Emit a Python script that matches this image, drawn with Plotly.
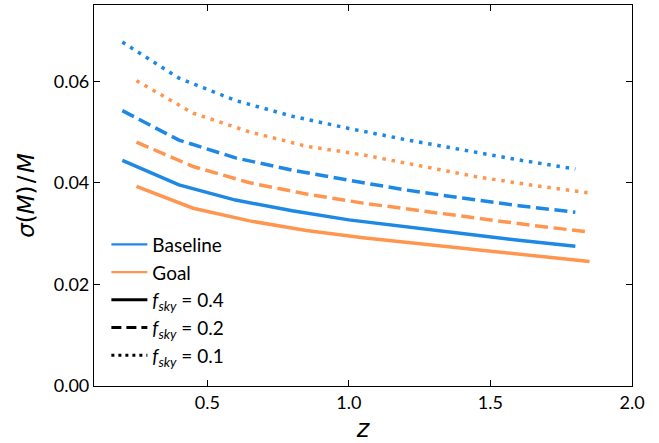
import plotly.graph_objects as go

# Data
z_baseline = [0.2, 0.4, 0.6, 0.8, 1.0, 1.2, 1.4, 1.6, 1.8]
z_goal = [0.25, 0.45, 0.65, 0.85, 1.05, 1.25, 1.45, 1.65, 1.85]

baseline_f04 = [0.0444, 0.0396, 0.0366, 0.0345, 0.0327, 0.0313, 0.0300, 0.0287, 0.0275]
baseline_f02 = [0.0542, 0.0484, 0.0449, 0.0425, 0.0405, 0.0386, 0.0370, 0.0355, 0.0342]
baseline_f01 = [0.0677, 0.0606, 0.0562, 0.0531, 0.0507, 0.0485, 0.0465, 0.0445, 0.0427]

goal_f04 = [0.0393, 0.0350, 0.0325, 0.0306, 0.0292, 0.0280, 0.0268, 0.0256, 0.0245]
goal_f02 = [0.0480, 0.0432, 0.0400, 0.0378, 0.0360, 0.0345, 0.0330, 0.0316, 0.0303]
goal_f01 = [0.0601, 0.0537, 0.0500, 0.0472, 0.0455, 0.0433, 0.0412, 0.0395, 0.0380]

x_ticks = [0.5, 1.0, 1.5, 2.0]
y_ticks = [0.00, 0.02, 0.04, 0.06]

BLUE = "#1E88E5"
ORANGE = "#FF9650"
LW = 3.5
DASH = "13px,5.6px"
DOT = "3.5px,5.8px"

fig = go.Figure()

series = [
    (z_baseline, baseline_f04, BLUE, "solid"),
    (z_baseline, baseline_f02, BLUE, DASH),
    (z_baseline, baseline_f01, BLUE, DOT),
    (z_goal, goal_f04, ORANGE, "solid"),
    (z_goal, goal_f02, ORANGE, DASH),
    (z_goal, goal_f01, ORANGE, DOT),
]
for xs, ys, col, dash in series:
    fig.add_trace(go.Scatter(x=xs, y=ys, mode="lines", showlegend=False,
                             line=dict(color=col, width=LW, dash=dash)))

legend_items = [
    ("Baseline", BLUE, "solid", 2.2),
    ("Goal", ORANGE, "solid", 2.2),
    ("<i>f</i><sub><i>sky</i></sub> = 0.4", "black", "solid", 3),
    ("<i>f</i><sub><i>sky</i></sub> = 0.2", "black", "10px,5px", 3),
    ("<i>f</i><sub><i>sky</i></sub> = 0.1", "black", "3px,4px", 3),
]
for i, (name, col, dash, w) in enumerate(legend_items):
    fig.add_trace(go.Scatter(x=[None], y=[None], mode="lines", name=name,
                             legendgroup=f"g{i}",
                             line=dict(color=col, width=w, dash=dash)))

axis_common = dict(
    showline=True, linecolor="black", linewidth=1.2, mirror="ticks",
    ticks="inside", ticklen=6, tickwidth=1.2, tickcolor="black",
    showgrid=False, zeroline=False, automargin=False,
    tickfont=dict(size=18, color="black", family="Lato"),
)

fig.update_xaxes(range=[0.1, 2.0], tickvals=x_ticks,
                 ticktext=[f"{v:.1f}" for v in x_ticks],
                 title=dict(text="<i>z</i>", font=dict(size=24, color="black", family="DejaVu Sans"),
                            standoff=22),
                 **axis_common)
fig.update_yaxes(range=[0.0, 0.075], tickvals=y_ticks,
                 ticktext=[f"{v:.2f}" for v in y_ticks],
                 title=dict(text="<i>σ</i>(<i>M</i>)\u200a/\u200a<i>M</i>",
                            font=dict(size=23, color="black", family="DejaVu Sans"), standoff=12),
                 **axis_common)

fig.update_layout(
    width=659, height=443,
    margin=dict(l=94, r=27, t=5, b=57),
    paper_bgcolor="white", plot_bgcolor="white",
    font=dict(family="Lato", color="black"),
    legend=dict(x=0.023, y=0.03, xanchor="left", yanchor="bottom",
                bgcolor="rgba(0,0,0,0)", font=dict(size=19, color="black", family="Lato"),
                traceorder="grouped", tracegroupgap=0, itemwidth=36),
)

fig.write_html("out.html", config={"displayModeBar": False},
               post_script="document.body.style.margin='0px';")
